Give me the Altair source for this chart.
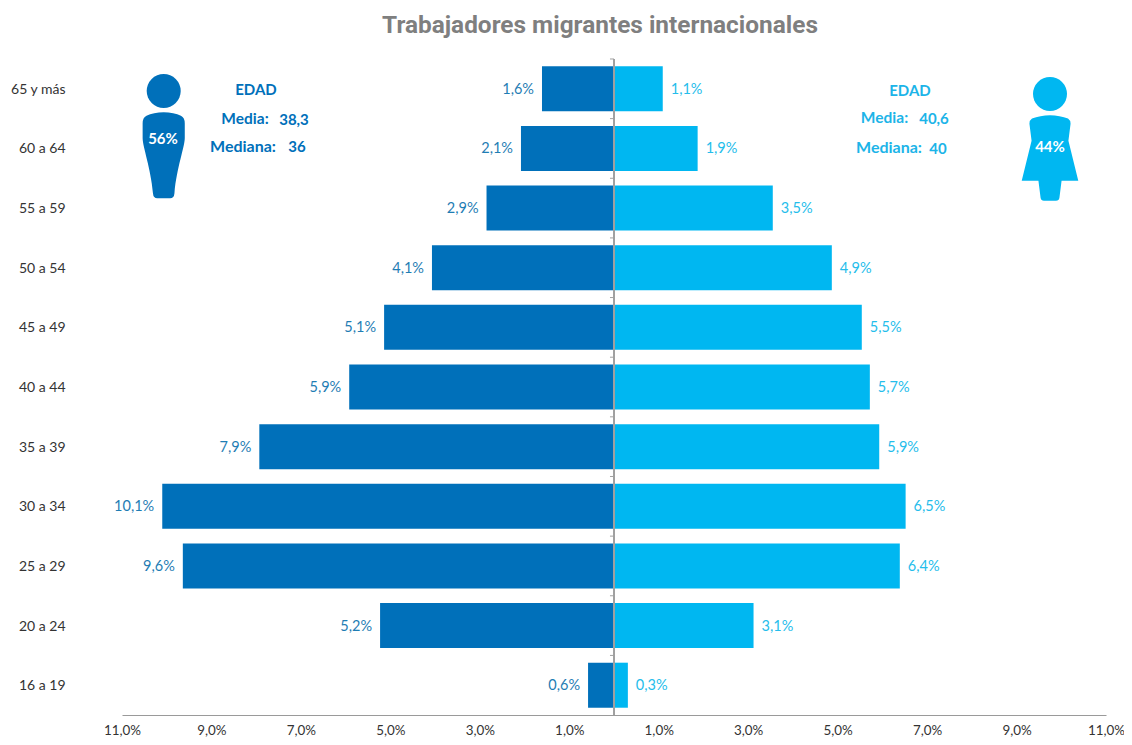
import altair as alt
import pandas as pd

ages = ["65 y más", "60 a 64", "55 a 59", "50 a 54", "45 a 49", "40 a 44",
        "35 a 39", "30 a 34", "25 a 29", "20 a 24", "16 a 19"]
# Bar lengths as measured on the picture
men = [1.61, 2.08, 2.85, 4.07, 5.14, 5.92, 7.93, 10.1, 9.64, 5.23, 0.58]
women = [1.09, 1.87, 3.55, 4.87, 5.54, 5.72, 5.93, 6.52, 6.39, 3.12, 0.31]
# Labels as printed on the picture
men_labels = ["1,6%", "2,1%", "2,9%", "4,1%", "5,1%", "5,9%", "7,9%", "10,1%", "9,6%", "5,2%", "0,6%"]
women_labels = ["1,1%", "1,9%", "3,5%", "4,9%", "5,5%", "5,7%", "5,9%", "6,5%", "6,4%", "3,1%", "0,3%"]
tick_values = [-11, -9, -7, -5, -3, -1, 1, 3, 5, 7, 9, 11]

BLUE = "#0070BA"
CYAN = "#00B7F1"
BLUE_TXT = "#1F7DB4"
CYAN_TXT = "#25BDEB"
SOFT_CYAN = "#1CB4E8"
FONT = "Lato"
LEFT, TOP, W, H = 122, 59, 984, 656

df = pd.DataFrame({"age": ages, "men": [-v for v in men], "women": women,
                   "men_label": men_labels, "women_label": women_labels})

x_scale = alt.Scale(domain=[-11, 11], nice=False, zero=False)
y_scale = alt.Scale(domain=ages, paddingInner=0.245, paddingOuter=0.122)
y_enc = alt.Y("age:N", scale=y_scale, sort=ages, title=None,
              axis=alt.Axis(domain=False, ticks=False, labelFont=FONT, labelFontSize=14,
                            labelColor="#333333", labelPadding=57, labelOffset=1))
x_axis = alt.Axis(values=tick_values, labelExpr="replace(format(abs(datum.value),'.1f'),'.',',')+'%'",
                  grid=False, ticks=False, domainColor="#9A9A9A", domainWidth=1.2, labelFont=FONT,
                  labelFontSize=13.4, labelColor="#333333", labelPadding=8,
                  labelFlush=False, labelOverlap=False, title=None)

base = alt.Chart(df)
men_bar = base.mark_bar(color=BLUE).encode(
    x=alt.X("men:Q", scale=x_scale, axis=x_axis), x2=alt.datum(0), y=y_enc)
women_bar = base.mark_bar(color=CYAN).encode(x=alt.X("women:Q", scale=x_scale), x2=alt.datum(0), y=y_enc)
men_txt = base.mark_text(align="right", dx=-8, dy=1, font=FONT, fontSize=14.5, color=BLUE_TXT).encode(
    x=alt.X("men:Q", scale=x_scale), y=y_enc, text="men_label:N")
women_txt = base.mark_text(align="left", dx=8, dy=1, font=FONT, fontSize=14.5, color=CYAN_TXT).encode(
    x=alt.X("women:Q", scale=x_scale), y=y_enc, text="women_label:N")
center = base.mark_rule(color="#A0A0A0", strokeWidth=1).encode(x=alt.datum(0))
ticks = base.mark_rule(color="#A0A0A0", strokeWidth=1, yOffset=-29.8).encode(
    x=alt.datum(-0.09), x2=alt.datum(0), y=y_enc)


def label(text, x, y, color, size=15, weight="bold"):
    return alt.Chart(pd.DataFrame({"t": [text]})).mark_text(
        font=FONT, fontSize=size, fontWeight=weight, color=color, align="center", baseline="middle"
    ).encode(x=alt.value(x - LEFT), y=alt.value(y + 1 - TOP), text="t:N")


def icon(shape, x, y, size, color):
    return alt.Chart(pd.DataFrame({"k": [0]})).mark_point(
        shape=shape, size=size, filled=True, fill=color, opacity=1, strokeWidth=0
    ).encode(x=alt.value(x - LEFT), y=alt.value(y - TOP))


MAN = ("M0,-1 C-0.15,-1 -0.3,-0.97 -0.4,-0.92 Q-0.49,-0.88 -0.49,-0.74 L-0.49,-0.4 "
       "C-0.49,-0.2 -0.3,0.3 -0.25,0.88 Q-0.24,1 -0.15,1 L0.15,1 Q0.24,1 0.25,0.88 "
       "C0.3,0.3 0.49,-0.2 0.49,-0.4 L0.49,-0.74 Q0.49,-0.88 0.4,-0.92 C0.3,-0.97 0.15,-1 0,-1 Z")
WOMAN = ("M0,-1 C-0.15,-1 -0.3,-0.97 -0.42,-0.92 Q-0.48,-0.88 -0.48,-0.8 L-0.43,-0.4 "
         "L-0.66,0.53 L-0.27,0.53 L-0.22,0.93 Q-0.21,1 -0.14,1 L0.14,1 Q0.21,1 0.22,0.93 "
         "L0.27,0.53 L0.66,0.53 L0.43,-0.4 L0.48,-0.8 Q0.48,-0.88 0.42,-0.92 C0.3,-0.97 0.15,-1 0,-1 Z")

layers = [men_bar, women_bar, center, ticks, men_txt, women_txt,
          icon("circle", 163.7, 91, 1156, BLUE), icon(MAN, 163.7, 155.3, 7396, BLUE),
          icon("circle", 1050, 94, 1156, CYAN), icon(WOMAN, 1050, 158, 7344, CYAN),
          label("56%", 163, 138, "white", 15), label("44%", 1050, 146, "white", 15),
          label("EDAD", 256, 89, BLUE), label("Media:", 245, 118, BLUE, 15.5), label("38,3", 294, 119, BLUE),
          label("Mediana:", 243, 146, BLUE, 16), label("36", 297, 146, BLUE),
          label("EDAD", 910, 90, SOFT_CYAN), label("Media:", 884.5, 117, SOFT_CYAN, 15.5),
          label("40,6", 934, 118, SOFT_CYAN), label("Mediana:", 889, 147, SOFT_CYAN, 16),
          label("40", 938, 148, SOFT_CYAN)]

chart = alt.layer(*layers).resolve_scale(x="shared", y="shared").properties(
    width=W, height=H,
    title=alt.TitleParams("Trabajadores migrantes internacionales", font="Roboto", fontSize=24.4,
                          fontWeight="bold", color="#7F7F7F", anchor="middle", dx=-14, offset=20),
    autosize=alt.AutoSizeParams(type="none"),
    padding={"left": LEFT - 8, "top": TOP - 8, "right": 18, "bottom": 22},
).configure_view(stroke=None)

chart.save("out.html", embed_options={"renderer": "svg", "actions": False})
